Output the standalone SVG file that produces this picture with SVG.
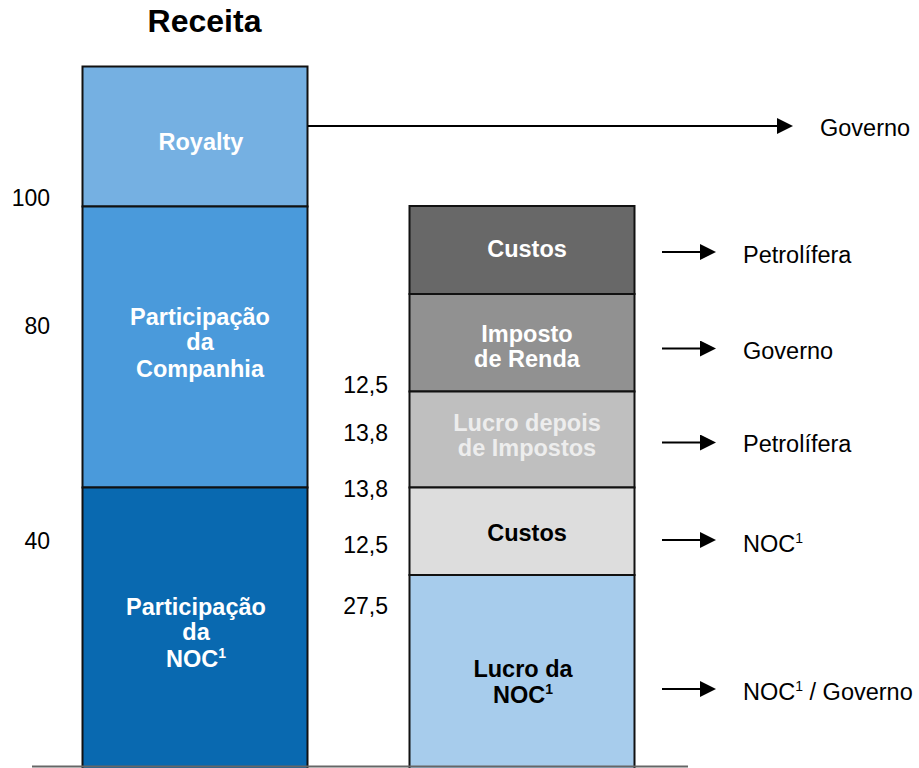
<svg xmlns="http://www.w3.org/2000/svg" width="919" height="768" viewBox="0 0 919 768">
  <style>
    text { font-family: "Liberation Sans", Arial, sans-serif; }
    .title { font-size: 32px; font-weight: bold; fill: #000; text-anchor: middle; }
    .num { font-size: 23px; fill: #000; text-anchor: end; }
    .lbl { font-size: 23.5px; font-weight: bold; text-anchor: middle; }
    .w { fill: #FFFFFF; }
    .lw { fill: #EDEDED; }
    .k { fill: #000000; }
    .dest { font-size: 23.5px; fill: #000; }
    .sup { font-size: 14px; }
    .box { stroke: #111111; stroke-width: 2; }
    .conn { stroke: #000; stroke-width: 2; fill: none; marker-end: url(#ah); }
  </style>
  <defs>
    <marker id="ah" markerUnits="userSpaceOnUse" markerWidth="16" markerHeight="16" refX="0" refY="8" orient="auto">
      <path d="M0,0 L16,8 L0,16 Z" fill="#000"/>
    </marker>
  </defs>
  <rect width="919" height="768" fill="#FFFFFF"/>

  <text class="title" x="204.5" y="31.5">Receita</text>

  <!-- left scale numbers -->
  <g id="scale-left">
    <text class="num" x="50" y="206">100</text>
    <text class="num" x="50" y="334">80</text>
    <text class="num" x="50" y="549">40</text>
  </g>
  <!-- middle scale numbers -->
  <g id="scale-mid">
    <text class="num" x="388" y="392.5">12,5</text>
    <text class="num" x="388" y="440.5">13,8</text>
    <text class="num" x="388" y="496.5">13,8</text>
    <text class="num" x="388" y="552.5">12,5</text>
    <text class="num" x="388" y="614">27,5</text>
  </g>

  <!-- left bar -->
  <g id="royalty">
    <rect class="box" x="82.5" y="66.5" width="225" height="140" fill="#75B0E2"/>
    <text class="lbl w" x="201" y="150">Royalty</text>
  </g>
  <g id="participacao-companhia">
    <rect class="box" x="82.5" y="206.5" width="225" height="281" fill="#4A9ADB"/>
    <text class="lbl w" x="200" y="325">Participação</text>
    <text class="lbl w" x="200" y="350">da</text>
    <text class="lbl w" x="200" y="377">Companhia</text>
  </g>
  <g id="participacao-noc">
    <rect class="box" x="82.5" y="487.5" width="225" height="285" fill="#0969B0"/>
    <text class="lbl w" x="196" y="615">Participação</text>
    <text class="lbl w" x="196" y="640">da</text>
    <text class="lbl w" x="196" y="667">NOC<tspan class="sup" dy="-9">1</tspan></text>
  </g>

  <!-- right bar -->
  <g id="custos-petrolifera">
    <rect class="box" x="409.5" y="206" width="225" height="88" fill="#686868"/>
    <text class="lbl w" x="527" y="257">Custos</text>
  </g>
  <g id="imposto-renda">
    <rect class="box" x="409.5" y="294" width="225" height="97.5" fill="#919191"/>
    <text class="lbl w" x="527" y="341.5">Imposto</text>
    <text class="lbl w" x="527" y="367">de Renda</text>
  </g>
  <g id="lucro-depois-impostos">
    <rect class="box" x="409.5" y="391.5" width="225" height="96" fill="#BFBFBF"/>
    <text class="lbl lw" x="527" y="430.5">Lucro depois</text>
    <text class="lbl lw" x="527" y="455.5">de Impostos</text>
  </g>
  <g id="custos-noc">
    <rect class="box" x="409.5" y="487.5" width="225" height="87.5" fill="#DDDDDD"/>
    <text class="lbl k" x="527" y="541">Custos</text>
  </g>
  <g id="lucro-noc">
    <rect class="box" x="409.5" y="575" width="225" height="198" fill="#A7CCEC"/>
    <text class="lbl k" x="523" y="676.5">Lucro da</text>
    <text class="lbl k" x="523" y="703">NOC<tspan class="sup" dy="-9">1</tspan></text>
  </g>

  <!-- baseline -->
  <line x1="32" y1="766.5" x2="688" y2="766.5" stroke="#666666" stroke-width="2"/>

  <!-- connectors -->
  <g id="connectors">
    <line class="conn" x1="308" y1="126" x2="777" y2="126"/>
    <line class="conn" x1="662" y1="252" x2="700" y2="252"/>
    <line class="conn" x1="662" y1="348.5" x2="700" y2="348.5"/>
    <line class="conn" x1="662" y1="442.5" x2="700" y2="442.5"/>
    <line class="conn" x1="662" y1="540" x2="700" y2="540"/>
    <line class="conn" x1="662" y1="689" x2="700" y2="689"/>
  </g>

  <!-- destinations -->
  <g id="dest-governo-top"><text class="dest" x="820" y="136">Governo</text></g>
  <g id="dest-petrolifera-1"><text class="dest" x="743" y="262.5">Petrolífera</text></g>
  <g id="dest-governo"><text class="dest" x="743" y="358.5">Governo</text></g>
  <g id="dest-petrolifera-2"><text class="dest" x="743" y="452">Petrolífera</text></g>
  <g id="dest-noc"><text class="dest" x="743" y="551.5">NOC<tspan class="sup" dy="-9">1</tspan></text></g>
  <g id="dest-noc-governo"><text class="dest" x="743" y="700">NOC<tspan class="sup" dy="-9">1</tspan><tspan dy="9"> / Governo</tspan></text></g>
</svg>
